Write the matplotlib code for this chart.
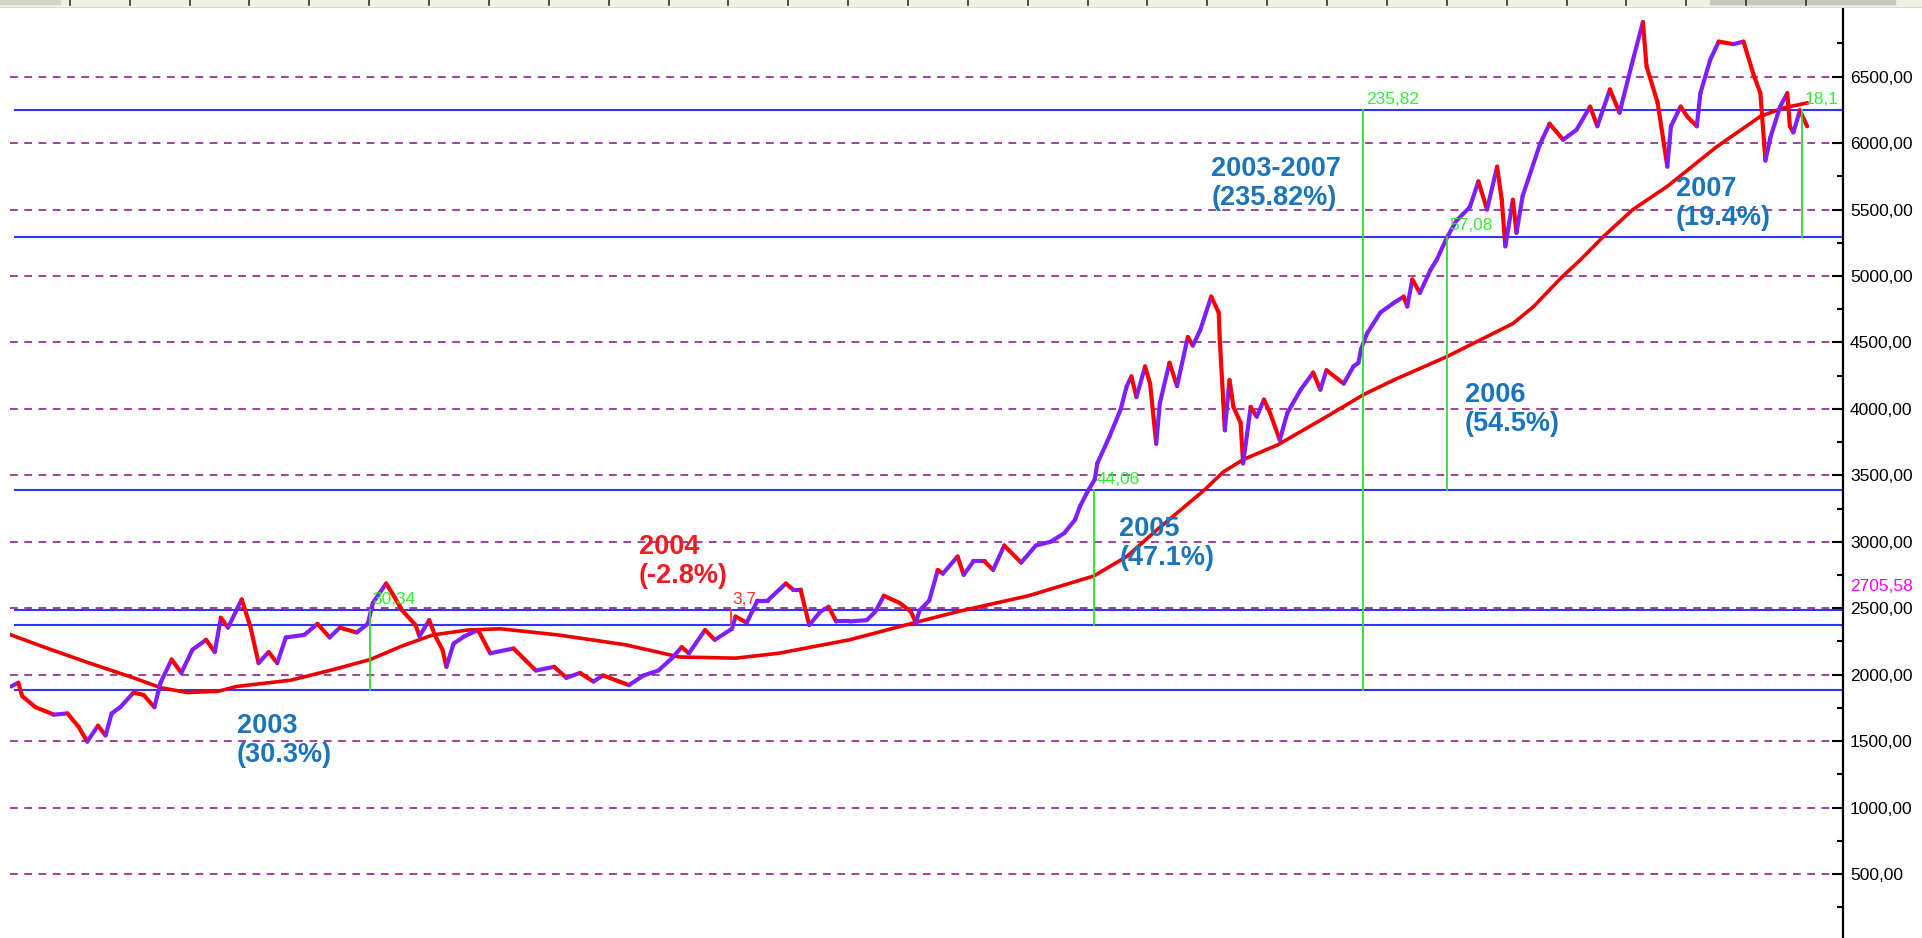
import matplotlib
matplotlib.use("Agg")
import matplotlib.pyplot as plt
from matplotlib.collections import LineCollection
from matplotlib.patches import Rectangle

plt.rcParams['font.family'] = ['Liberation Sans', 'DejaVu Sans']

# price path, time in years since Jan 2003
price_t = [0.000, 0.020, 0.031, 0.068, 0.119, 0.157, 0.188, 0.212, 0.242, 0.263,
           0.280, 0.304, 0.341, 0.369, 0.399, 0.416, 0.447, 0.474, 0.505, 0.543,
           0.567, 0.584, 0.604, 0.642, 0.666, 0.689, 0.717, 0.741, 0.765, 0.816,
           0.853, 0.887, 0.915, 0.962, 0.993, 1.007, 1.044, 1.061, 1.089, 1.126,
           1.137, 1.164, 1.181, 1.201, 1.212, 1.232, 1.263, 1.300, 1.334, 1.399,
           1.461, 1.512, 1.546, 1.584, 1.621, 1.648, 1.720, 1.761, 1.802, 1.840,
           1.867, 1.887, 1.932, 1.959, 2.007, 2.017, 2.048, 2.078, 2.106, 2.157,
           2.177, 2.198, 2.212, 2.222, 2.253, 2.276, 2.297, 2.334, 2.382, 2.406,
           2.430, 2.444, 2.474, 2.505, 2.519, 2.529, 2.556, 2.580, 2.594, 2.635,
           2.652, 2.679, 2.710, 2.734, 2.765, 2.812, 2.853, 2.894, 2.932, 2.962,
           2.976, 2.997, 3.017, 3.024, 3.058, 3.089, 3.106, 3.119, 3.133, 3.157,
           3.171, 3.188, 3.198, 3.225, 3.246, 3.276, 3.290, 3.311, 3.341, 3.362,
           3.365, 3.375, 3.379, 3.392, 3.403, 3.423, 3.430, 3.451, 3.468, 3.488,
           3.505, 3.532, 3.553, 3.590, 3.625, 3.645, 3.662, 3.710, 3.737, 3.751,
           3.758, 3.775, 3.812, 3.850, 3.877, 3.887, 3.901, 3.922, 3.952, 3.969,
           3.997, 4.024, 4.061, 4.085, 4.109, 4.137, 4.150, 4.160, 4.181, 4.191,
           4.208, 4.256, 4.283, 4.321, 4.358, 4.396, 4.416, 4.451, 4.478, 4.515,
           4.543, 4.553, 4.584, 4.611, 4.621, 4.648, 4.666, 4.693, 4.703, 4.730,
           4.754, 4.795, 4.823, 4.850, 4.870, 4.884, 4.898, 4.925, 4.945, 4.952,
           4.962, 4.980, 5.000]
price_v = [1911, 1939, 1838, 1755, 1699, 1708, 1607, 1496, 1616, 1542,
           1708, 1755, 1865, 1847, 1755, 1939, 2114, 2013, 2188, 2262,
           2170, 2428, 2354, 2566, 2363, 2087, 2170, 2087, 2280, 2299,
           2382, 2280, 2354, 2317, 2382, 2539, 2686, 2613, 2483, 2373,
           2290, 2410, 2290, 2188, 2059, 2234, 2290, 2336, 2161, 2197,
           2031, 2059, 1976, 2013, 1948, 1994, 1921, 1994, 2031, 2124,
           2207, 2161, 2336, 2262, 2345, 2437, 2391, 2557, 2557, 2686,
           2640, 2640, 2483, 2373, 2474, 2511, 2400, 2400, 2410, 2474,
           2594, 2576, 2539, 2474, 2391, 2483, 2557, 2788, 2760, 2889,
           2751, 2852, 2852, 2788, 2972, 2843, 2972, 3000, 3065, 3166,
           3268, 3378, 3470, 3590, 3793, 3996, 4172, 4245, 4089, 4319,
           4190, 3738, 4042, 4347, 4172, 4541, 4476, 4596, 4845, 4725,
           4522, 4042, 3839, 4218, 4015, 3895, 3590, 4015, 3941, 4070,
           3969, 3766, 3969, 4144, 4273, 4144, 4291, 4190, 4319, 4347,
           4448, 4568, 4725, 4799, 4845, 4771, 4974, 4873, 5048, 5122,
           5288, 5417, 5518, 5712, 5500, 5823, 5574, 5223, 5574, 5325,
           5601, 5989, 6146, 6026, 6100, 6275, 6127, 6404, 6229, 6625,
           6911, 6579, 6303, 5823, 6127, 6275, 6201, 6127, 6376, 6625,
           6764, 6745, 6764, 6524, 6376, 5869, 6044, 6275, 6376, 6127,
           6081, 6247, 6127]

# moving average
ma_t = [0.000, 0.092, 0.218, 0.341, 0.416, 0.491, 0.577, 0.628, 0.778, 0.901,
        1.000, 1.089, 1.174, 1.273, 1.362, 1.522, 1.710, 1.860, 2.017, 2.137,
        2.334, 2.515, 2.635, 2.833, 3.014, 3.106, 3.191, 3.321, 3.375, 3.430,
        3.526, 3.662, 3.765, 3.850, 3.997, 4.181, 4.239, 4.314, 4.369, 4.433,
        4.515, 4.611, 4.747, 4.870, 4.935, 5.000]
ma_v = [2299, 2207, 2087, 1976, 1902, 1865, 1875, 1911, 1958, 2041,
        2114, 2216, 2299, 2336, 2345, 2299, 2225, 2133, 2124, 2161,
        2262, 2391, 2474, 2594, 2742, 2889, 3092, 3387, 3526, 3618,
        3729, 3941, 4107, 4218, 4393, 4642, 4771, 4983, 5122, 5297,
        5500, 5675, 5970, 6201, 6266, 6302]

# horizontal reference levels
blue_levels = [6247, 5297, 3387, 2483, 2373, 1884]

# measurement lines: time, low, high, label
meas_t = [1.000, 3.014, 3.765, 3.997, 4.986]
meas_lo = [1884, 2373, 1884, 3387, 5297]
meas_hi = [2483, 3387, 6247, 5297, 6247]
meas_lbl = ['30,34', '44,06', '235,82', '57,08', '18,1']

# yearly annotations
ann_txt = ['2003\n(30.3%)', '2004\n(-2.8%)', '2005\n(47.1%)',
           '2003-2007\n(235.82%)', '2006\n(54.5%)', '2007\n(19.4%)']
ann_t = [0.628, 1.747, 3.085, 3.341, 4.048, 4.635]
ann_v = [1715, 3060, 3195, 5905, 4200, 5750]
ann_col = ['#1b75bc', '#ee1c24', '#1b75bc', '#1b75bc', '#1b75bc', '#1b75bc']

last_price = 2705.58

W, H = 1922, 938
fig = plt.figure(figsize=(W / 100, H / 100), dpi=100)
fig.patch.set_facecolor('white')

ax = fig.add_axes([10 / W, 0, (1843 - 10) / W, (H - 8) / H])
ax.set_xlim(-0.003, 5.10)
ax.set_ylim(18, 7017)

# dashed grid
for lv in range(500, 7000, 500):
    ax.axhline(lv, color='#993399', lw=1.3, ls=(0, (4.3, 3.6)), zorder=1)

for lv in blue_levels:
    ax.plot([0.01, 5.10], [lv, lv], color='#3333ff', lw=1.5, zorder=2)

# price, coloured by direction
segs = []
cols = []
for i in range(len(price_t) - 1):
    segs.append([(price_t[i], price_v[i]), (price_t[i + 1], price_v[i + 1])])
    cols.append('#7f1fff' if price_v[i + 1] >= price_v[i] else '#ff0000')
lc = LineCollection(segs, colors=cols, linewidths=3.0, capstyle='round', zorder=4)
ax.add_collection(lc)

ax.plot(ma_t, ma_v, color='#ee0000', lw=2.6, zorder=3, solid_joinstyle='round')

for t, lo, hi, lbl in zip(meas_t, meas_lo, meas_hi, meas_lbl):
    ax.plot([t, t], [lo, hi], color='#33dd33', lw=1.3, zorder=5)
    ax.text(t + 0.007, hi + 25, lbl, color='#33ee33', fontsize=12.5,
            ha='left', va='bottom', zorder=6)

# 2004 marker
ax.plot([2.003, 2.003], [2373, 2483], color='#ff3333', lw=1.3, zorder=5)
ax.text(2.007, 2483 + 25, '3,7', color='#ff3333', fontsize=12.5,
        ha='left', va='bottom', zorder=6)

for txt, t, v, c in zip(ann_txt, ann_t, ann_v, ann_col):
    ax.text(t, v, txt, color=c, fontsize=19.5, fontweight='bold',
            ha='left', va='top', linespacing=1.15, zorder=7)

# right price axis
for s in ['left', 'top', 'bottom']:
    ax.spines[s].set_visible(False)
ax.spines['right'].set_linewidth(1.6)
ax.set_xticks([])
ax.yaxis.tick_right()
ax.set_yticks(range(500, 7000, 500))
ax.set_yticklabels([f"{v:.2f}".replace('.', ',') for v in range(500, 7000, 500)])
ax.set_yticks(range(250, 7000, 500), minor=True)
ax.tick_params(axis='y', which='major', direction='in', length=8, width=1.5,
               labelsize=12.5, pad=5, colors='black')
ax.tick_params(axis='y', which='minor', direction='in', length=4, width=1.5)
ax.text(1.004, last_price - 40, f"{last_price:.2f}".replace('.', ','),
        transform=ax.get_yaxis_transform(), color='#ff00ff', fontsize=12.5,
        ha='left', va='center')

# top time strip
top = fig.add_axes([0, (H - 8) / H, 1, 8 / H])
top.set_facecolor('#f3f0e4')
top.set_xlim(-10 / 1833 * 5.103, 1912 / 1833 * 5.103)
top.set_ylim(0, 1)
for k in range(1, 31):
    top.plot([k / 6, k / 6], [0.35, 1], color='#333333', lw=1.2)
top.add_patch(Rectangle((1710 / W, 0.45), 185 / W, 0.55, color='#c8c8c0',
                        transform=top.transAxes))
top.add_patch(Rectangle((0, 0.45), 60 / W, 0.55, color='#d6d6cc',
                        transform=top.transAxes))
top.set_xticks([])
top.set_yticks([])
for s in top.spines.values():
    s.set_visible(False)
top.axhline(0.05, color='#e2ddc8', lw=1.5)

fig.savefig('out.png', dpi=100)
